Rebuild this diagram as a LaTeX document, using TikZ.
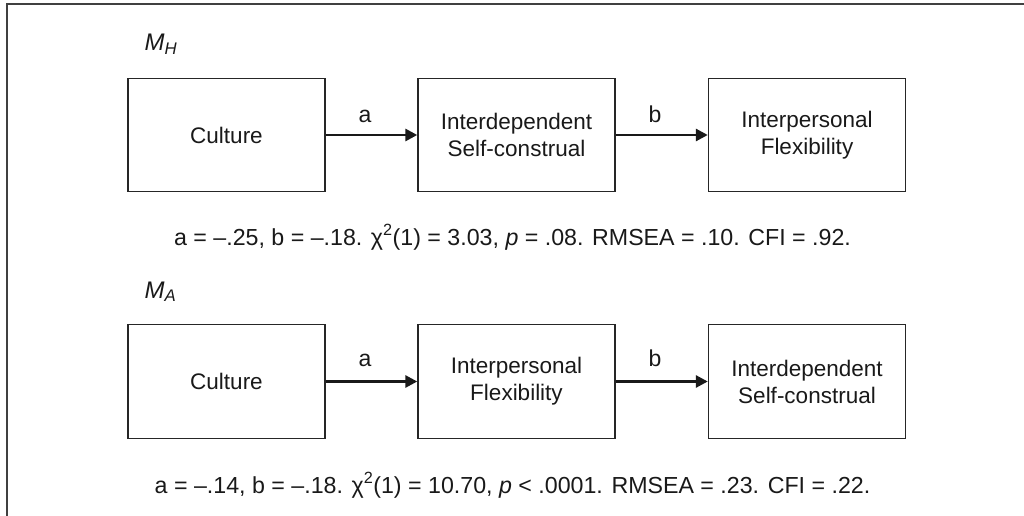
\documentclass[tikz,border=0pt]{standalone}
\usepackage{fontspec}
\setmainfont{Liberation Sans}
\usetikzlibrary{arrows.meta}
\begin{document}
\begin{tikzpicture}[x=1pt,y=-1pt,
  varbox/.style={draw=black!85, line width=1.4pt, minimum width=197pt, minimum height=113.5pt, inner sep=0pt, align=center, font=\fontsize{22.5}{27}\selectfont, text=black!90},
  path/.style={line width=2.8pt, draw=black!90, -{Triangle[length=12pt,width=12pt]}},
  plabel/.style={anchor=base, font=\fontsize{23}{27}\selectfont, text=black!90},
  stats/.style={anchor=base, font=\fontsize{23.2}{27}\selectfont, text=black!90},
  model/.style={anchor=base west, font=\fontsize{24}{28}\selectfont\itshape, text=black!90}
]
\useasboundingbox (0,0) rectangle (1024,516);
\draw[line width=2pt, draw=black!75] (7,516) -- (7,4.5) -- (1024,4.5);

% top model
\node[model] (mh) at (141,51) {M\textsubscript{H}};
\node[varbox] (c1) at (226.5,135) {Culture};
\node[varbox] (i1) at (516.5,135) {Interdependent\\Self-construal};
\node[varbox] (f1) at (807,135) {Interpersonal\\Flexibility};
\draw[path] (c1.east) -- (i1.west);
\draw[path] (i1.east) -- (f1.west);
\node[plabel] (a1) at (365,122) {a};
\node[plabel] (b1) at (655,122) {b};
\node[stats] (s1) at (512.5,245) {a = –.25, b = –.18. χ\textsuperscript{2}(1) = 3.03, \textit{p} = .08. RMSEA = .10. CFI = .92.};

% bottom model
\node[model] (ma) at (141,298) {M\textsubscript{A}};
\node[varbox] (c2) at (226.5,381.5) {Culture};
\node[varbox] (f2) at (516.5,381.5) {Interpersonal\\Flexibility};
\node[varbox] (i2) at (807,381.5) {Interdependent\\Self-construal};
\draw[path] (c2.east) -- (f2.west);
\draw[path] (f2.east) -- (i2.west);
\node[plabel] (a2) at (365,366) {a};
\node[plabel] (b2) at (655,366) {b};
\node[stats] (s2) at (512.5,493) {a = –.14, b = –.18. χ\textsuperscript{2}(1) = 10.70, \textit{p} < .0001. RMSEA = .23. CFI = .22.};
\end{tikzpicture}
\end{document}
